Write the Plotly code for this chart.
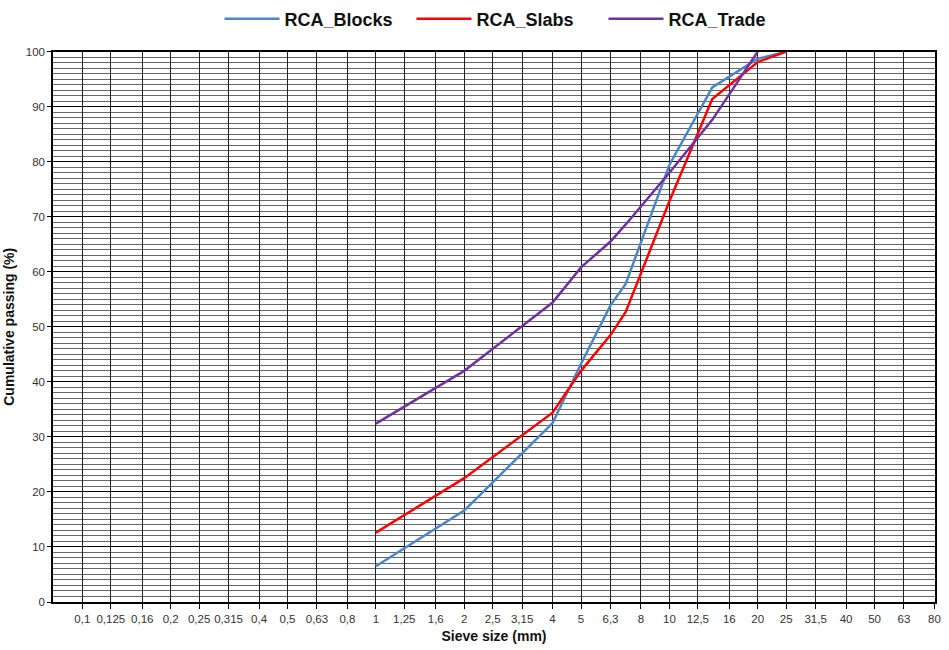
import plotly.graph_objects as go

sieve_ticks = [0.1, 0.125, 0.16, 0.2, 0.25, 0.315, 0.4, 0.5, 0.63, 0.8, 1, 1.25, 1.6, 2, 2.5,
               3.15, 4, 5, 6.3, 8, 10, 12.5, 16, 20, 25, 31.5, 40, 50, 63, 80]
tick_labels = [str(v).replace('.', ',') for v in sieve_ticks]

blocks_x = [1, 2, 4, 5, 6.3, 7.1, 10, 14, 20, 25]
blocks_y = [6.5, 16.6, 32.5, 43.3, 53.9, 57.8, 79.4, 93.5, 98.7, 100]

slabs_x = [1, 2, 4, 5, 6.3, 7.1, 10, 14, 20, 25]
slabs_y = [12.6, 22.5, 34.4, 42.0, 48.5, 52.7, 72.8, 91.4, 98.1, 100]

trade_x = [1, 2, 4, 5, 6.3, 7.1, 10, 14, 20]
trade_y = [32.4, 42.0, 54.4, 60.8, 65.5, 68.6, 78.0, 87.6, 100]

FONT = "Arial, Liberation Sans, sans-serif"

fig = go.Figure()
fig.add_trace(go.Scatter(x=blocks_x, y=blocks_y, mode='lines', name='RCA_Blocks',
                         line=dict(color='#4A86C8', width=2.5)))
fig.add_trace(go.Scatter(x=slabs_x, y=slabs_y, mode='lines', name='RCA_Slabs',
                         line=dict(color='#FF0000', width=2.5)))
fig.add_trace(go.Scatter(x=trade_x, y=trade_y, mode='lines', name='RCA_Trade',
                         line=dict(color='#7030A0', width=2.5)))

fig.update_layout(
    width=949, height=650,
    margin=dict(l=51, r=8, t=49, b=46),
    paper_bgcolor='white', plot_bgcolor='white',
    font=dict(family=FONT, color='#222'),
    showlegend=True,
    legend=dict(orientation='h', x=(219 - 51) / 890, xanchor='left', y=0.999, yanchor='top',
                yref='container',
                font=dict(size=18, family=FONT, color='#111', weight='bold'),
                itemwidth=55, tracegroupgap=0,
                entrywidth=122, entrywidthmode='pixels'),
)

fig.update_xaxes(
    type='log', range=[-1.1, 1.905],
    tickmode='array', tickvals=sieve_ticks, ticktext=tick_labels,
    tickfont=dict(size=11.5, color='#333'),
    showgrid=True, gridcolor='#222', gridwidth=1,
    ticks='outside', ticklen=5, tickcolor='#000',
    showline=True, linecolor='#000', linewidth=1.5, mirror=True,
    zeroline=False,
    title=dict(text='<b>Sieve size (mm)</b>', font=dict(size=14, color='#111'), standoff=8),
)
fig.update_yaxes(
    range=[0, 100], dtick=10, tick0=0,
    tickfont=dict(size=11.5, color='#333'),
    showgrid=True, gridcolor='#000', gridwidth=1.3,
    minor=dict(dtick=1, showgrid=True, gridcolor='#666', gridwidth=1),
    ticks='outside', ticklen=4, tickcolor='#000',
    showline=True, linecolor='#000', linewidth=1.5, mirror=True,
    zeroline=False,
    title=dict(text='<b>Cumulative passing (%)</b>', font=dict(size=14, color='#111'), standoff=8),
)

fig.write_html("out.html")
